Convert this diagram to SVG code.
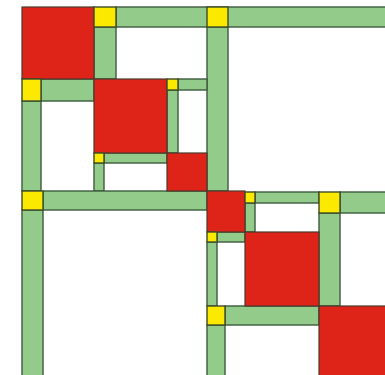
<svg xmlns="http://www.w3.org/2000/svg" width="385" height="375" viewBox="0 0 385 375">
<style>
.r{fill:#de2419;stroke:#4a3a2a;stroke-width:1.2}
.g{fill:#93cb8b;stroke:#3d5a3d;stroke-width:1.4}
.y{fill:#fbe900;stroke:#3d4a2a;stroke-width:1.4}
</style>
<rect width="385" height="375" fill="#ffffff"/>
<g id="bars">
<rect class="g" x="116" y="7" width="275" height="20"/>
<rect class="g" x="207" y="27" width="21" height="164"/>
<rect class="g" x="94" y="27" width="22" height="52"/>
<rect class="g" x="41" y="79" width="53" height="22"/>
<rect class="g" x="22" y="101" width="19" height="90"/>
<rect class="g" x="178" y="79" width="29" height="11"/>
<rect class="g" x="167" y="90" width="11" height="63"/>
<rect class="g" x="104" y="153" width="63" height="10"/>
<rect class="g" x="94" y="163" width="10" height="28"/>
<rect class="g" x="43" y="191" width="164" height="19"/>
<rect class="g" x="22" y="210" width="21" height="170"/>
<rect class="g" x="255" y="192" width="64" height="11"/>
<rect class="g" x="340" y="192" width="50" height="21"/>
<rect class="g" x="319" y="213" width="21" height="93"/>
<rect class="g" x="245" y="203" width="10" height="29"/>
<rect class="g" x="217" y="232" width="28" height="10"/>
<rect class="g" x="207" y="242" width="10" height="64"/>
<rect class="g" x="225" y="306" width="94" height="19"/>
<rect class="g" x="207" y="325" width="18" height="55"/>
</g>
<g id="red">
<rect id="r1" class="r" x="22" y="7" width="72" height="72"/>
<rect id="r2" class="r" x="94" y="79" width="73" height="74"/>
<rect id="r3" class="r" x="167" y="153" width="40" height="38"/>
<rect id="r4" class="r" x="207" y="191" width="38" height="41"/>
<rect id="r5" class="r" x="245" y="232" width="74" height="74"/>
<rect id="r6" class="r" x="319" y="306" width="72" height="75"/>
</g>
<g id="yellow">
<rect class="y" x="94" y="7" width="22" height="20"/>
<rect class="y" x="207" y="7" width="21" height="20"/>
<rect class="y" x="22" y="79" width="19" height="22"/>
<rect class="y" x="167" y="79" width="11" height="11"/>
<rect class="y" x="94" y="153" width="10" height="10"/>
<rect class="y" x="22" y="191" width="21" height="19"/>
<rect class="y" x="245" y="192" width="10" height="11"/>
<rect class="y" x="319" y="192" width="21" height="21"/>
<rect class="y" x="207" y="232" width="10" height="10"/>
<rect class="y" x="207" y="306" width="18" height="19"/>
</g>
</svg>
